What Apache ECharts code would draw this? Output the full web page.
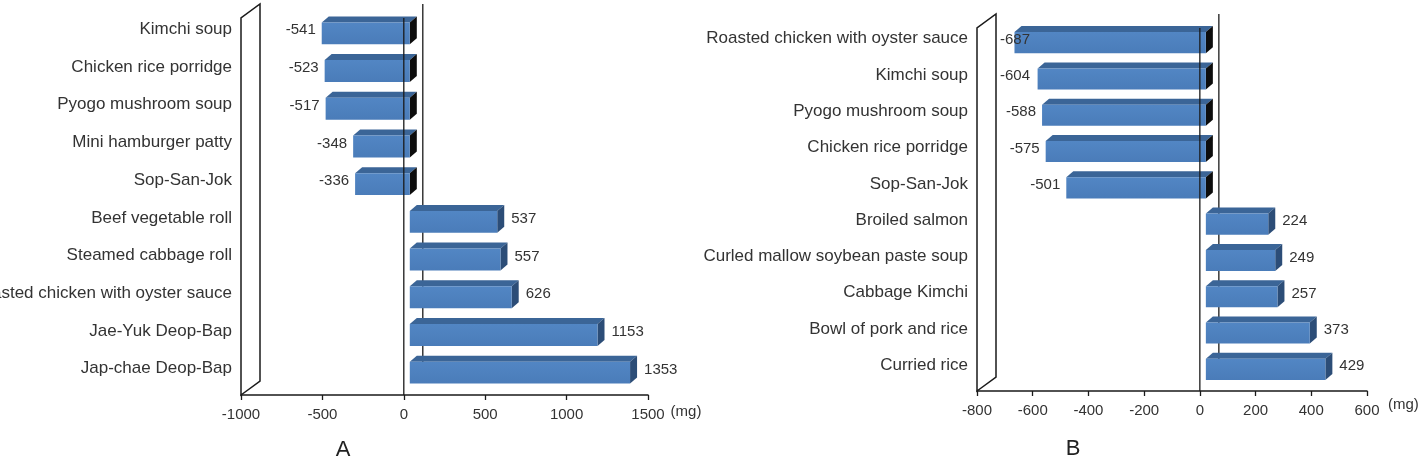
<!DOCTYPE html>
<html>
<head>
<meta charset="utf-8">
<script src="https://cdn.jsdelivr.net/npm/echarts@6/dist/echarts.min.js"></script>
<style>
  html, body { margin: 0; padding: 0; background: #fff; }
  #chart { width: 1428px; height: 458px; }
</style>
</head>
<body>
<div id="chart"></div>
<script>
const catsA = ["Kimchi soup", "Chicken rice porridge", "Pyogo mushroom soup", "Mini hamburger patty", "Sop-San-Jok",
  "Beef vegetable roll", "Steamed cabbage roll", "Roasted chicken with oyster sauce", "Jae-Yuk Deop-Bap", "Jap-chae Deop-Bap"];
const valsA = [-541, -523, -517, -348, -336, 537, 557, 626, 1153, 1353];

const catsB = ["Roasted chicken with oyster sauce", "Kimchi soup", "Pyogo mushroom soup", "Chicken rice porridge", "Sop-San-Jok",
  "Broiled salmon", "Curled mallow soybean paste soup", "Cabbage Kimchi", "Bowl of pork and rice", "Curried rice"];
const valsB = [-687, -604, -588, -575, -501, 224, 249, 257, 373, 429];

const FONT = "'Liberation Sans', Arial, sans-serif";
const TXT = "#333";
// depth of the 3D box (back wall offset) and of each bar
const DEPTH = [19, -14];
const BAR_OFF = 6, BAR_DX = 7, BAR_DY = 6;

function renderWall(params, api) {
  const cs = params.coordSys;
  const xl = cs.x, top = cs.y, bot = cs.y + cs.height;
  const x0 = api.coord([0, 0])[0];
  const [dx, dy] = DEPTH;
  return {
    type: "group",
    children: [
      { type: "polygon", shape: { points: [[xl, bot], [xl + dx, bot + dy], [xl + dx, top + dy], [xl, top]] },
        style: { fill: "#fff", stroke: "#1a1a1a", lineWidth: 1.5 } },
      { type: "line", shape: { x1: x0 + dx, y1: top + dy, x2: x0 + dx, y2: bot + dy },
        style: { stroke: "#1a1a1a", lineWidth: 1.3 } }
    ]
  };
}

function renderFront(params, api) {
  const cs = params.coordSys;
  const x0 = api.coord([0, 0])[0];
  return { type: "line", shape: { x1: x0, y1: cs.y, x2: x0, y2: cs.y + cs.height },
    style: { stroke: "#1a1a1a", lineWidth: 1.3 } };
}

function renderBar(params, api) {
  const v = api.value(0), ci = api.value(1);
  const p0 = api.coord([0, ci]);
  const p1 = api.coord([v, ci]);
  const h = api.size([0, 1])[1] * 0.58;
  const cy = p0[1] - 3.5;
  const yt = cy - h / 2, yb = cy + h / 2;
  const xl = Math.min(p0[0], p1[0]) + BAR_OFF, xr = Math.max(p0[0], p1[0]) + BAR_OFF;
  const wallBack = params.coordSys.x + DEPTH[0];
  let lx, align;
  if (v >= 0) {
    lx = xr + BAR_DX + 7; align = "left";
  } else {
    lx = xl - 6; align = "right";
    const w = String(v).length * 8.4;
    if (lx - w < wallBack + 4) { lx = wallBack + 4; align = "left"; }
  }
  return {
    type: "group",
    children: [
      { type: "polygon", shape: { points: [[xl, yt], [xl + BAR_DX, yt - BAR_DY], [xr + BAR_DX, yt - BAR_DY], [xr, yt]] },
        style: { fill: "#3b6597" } },
      { type: "polygon", shape: { points: [[xr, yt], [xr + BAR_DX, yt - BAR_DY], [xr + BAR_DX, yb - BAR_DY], [xr, yb]] },
        style: { fill: v < 0 ? "#0d0d0d" : "#2c4d77" } },
      { type: "rect", shape: { x: xl, y: yt, width: xr - xl, height: yb - yt },
        style: { fill: new echarts.graphic.LinearGradient(0, 0, 0, 1, [
          { offset: 0, color: "#5286c4" }, { offset: 1, color: "#4a7cb9" }]) } },
      { type: "text", style: { text: String(v), x: lx, y: cy - BAR_DY / 2, textAlign: align, textVerticalAlign: "middle",
        font: "15px " + FONT, fill: TXT } }
    ]
  };
}

function panel(idx, cats, vals) {
  const data = vals.map((v, i) => [v, i]);
  return [
    { type: "custom", xAxisIndex: idx, yAxisIndex: idx, z: 1, renderItem: renderWall, data: [[0, 0]], encode: { x: 0, y: 1 }, silent: true },
    { type: "custom", xAxisIndex: idx, yAxisIndex: idx, z: 2, renderItem: renderBar, data, encode: { x: 0, y: 1 } },
    { type: "custom", xAxisIndex: idx, yAxisIndex: idx, z: 3, renderItem: renderFront, data: [[0, 0]], encode: { x: 0, y: 1 }, silent: true }
  ];
}

function valueAxis(idx, min, max, interval, padTop) {
  return {
    type: "value", gridIndex: idx, min, max, interval,
    splitLine: { show: false },
    axisLine: { show: true, onZero: false, lineStyle: { color: "#1a1a1a", width: 1.5 } },
    axisTick: { show: true, inside: false, length: 5, lineStyle: { color: "#1a1a1a", width: 1.3 } },
    axisLabel: { margin: 12, fontSize: 15, fontFamily: FONT, color: TXT, formatter: (v) => String(v) },
    name: "(mg)", nameLocation: "end", nameGap: idx === 0 ? 19 : 21,
    nameTextStyle: { fontSize: 15, fontFamily: FONT, color: TXT, align: "left", verticalAlign: "top", padding: [padTop, 0, 0, 0] }
  };
}

function catAxis(idx, cats) {
  return {
    type: "category", gridIndex: idx, data: cats, inverse: true,
    axisLine: { show: false }, axisTick: { show: false },
    axisLabel: { margin: 9, fontSize: 17, fontFamily: FONT, color: TXT, verticalAlign: "bottom", lineHeight: 15 }
  };
}

const chart = echarts.init(document.getElementById("chart"));
chart.setOption({
  animation: false,
  title: [
    { text: "A", left: 338, top: 434, textAlign: "center", textStyle: { fontSize: 22, fontWeight: "normal", fontFamily: FONT, color: "#222" } },
    { text: "B", left: 1068, top: 433, textAlign: "center", textStyle: { fontSize: 22, fontWeight: "normal", fontFamily: FONT, color: "#222" } }
  ],
  grid: [
    { left: 241, width: 407, top: 18, bottom: 63, containLabel: false, outerBoundsMode: "none" },
    { left: 977, width: 390, top: 28, bottom: 67, containLabel: false, outerBoundsMode: "none" }
  ],
  xAxis: [valueAxis(0, -1000, 1500, 500, 9), valueAxis(1, -800, 600, 200, 6)],
  yAxis: [catAxis(0, catsA), catAxis(1, catsB)],
  series: [...panel(0, catsA, valsA), ...panel(1, catsB, valsB)]
});
</script>
</body>
</html>
